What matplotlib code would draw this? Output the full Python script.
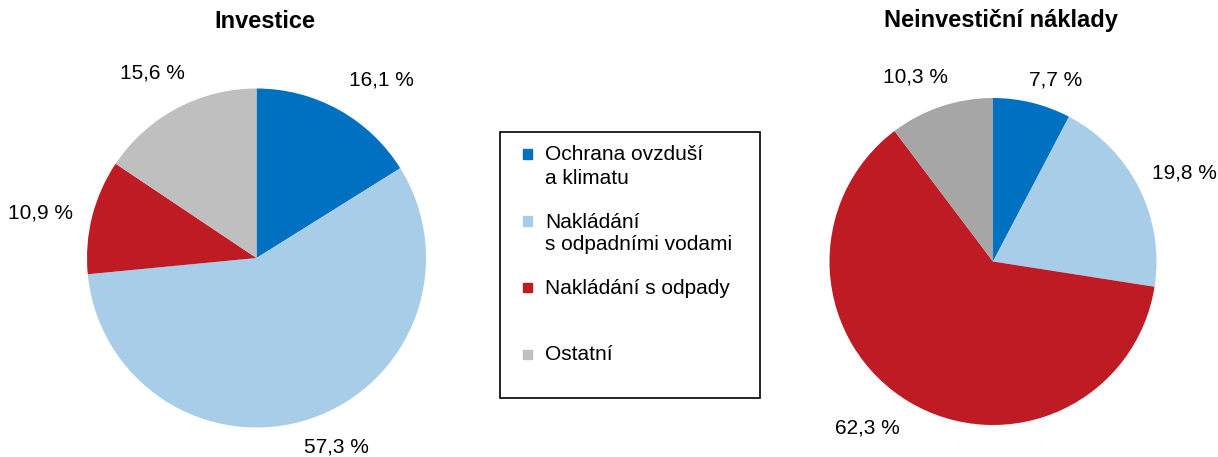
import matplotlib
matplotlib.use("Agg")
import matplotlib.pyplot as plt
from matplotlib.patches import Rectangle

plt.rcParams['font.family'] = ['Liberation Sans', 'DejaVu Sans']

categories = ["Ochrana ovzduší\na klimatu", "Nakládání\ns odpadními vodami",
              "Nakládání s odpady", "Ostatní"]
investice = [16.1, 57.3, 10.9, 15.6]
neinvesticni = [7.7, 19.8, 62.3, 10.3]
colors_left = ["#0070C0", "#A7CDE8", "#BE1B24", "#BFBFBF"]
colors_right = ["#0070C0", "#A7CDE8", "#BE1B24", "#A6A6A6"]

W, H = 1218, 457
fig = plt.figure(figsize=(W / 100, H / 100), dpi=100)


def px_axes(cx, cy, r):
    return fig.add_axes([(cx - r) / W, (H - cy - r) / H, 2 * r / W, 2 * r / H])


def fmt(v):
    return f"{v:.1f}".replace(".", ",") + " %"


# label positions (in pie radius units)
left_pos = [(0.735, 1.050), (0.469, -1.115), (-1.277, 0.265), (-0.611, 1.091)]
right_pos = [(0.385, 1.110), (1.168, 0.541), (-0.771, -1.018), (-0.471, 1.128)]

axL = px_axes(256.5, 258, 169.5)
axL.pie(investice, colors=colors_left, startangle=90, counterclock=False, radius=1)
axL.set_xlim(-1, 1)
axL.set_ylim(-1, 1)
for v, (x, y) in zip(investice, left_pos):
    axL.text(x, y, fmt(v), ha='center', va='center', fontsize=15)

axR = px_axes(993, 261.5, 163.5)
axR.pie(neinvesticni, colors=colors_right, startangle=90, counterclock=False, radius=1)
axR.set_xlim(-1, 1)
axR.set_ylim(-1, 1)
for v, (x, y) in zip(neinvesticni, right_pos):
    axR.text(x, y, fmt(v), ha='center', va='center', fontsize=15)

fig.text(265 / W, 1 - 21 / H, "Investice", ha='center', va='center',
         fontsize=17, fontweight='bold')
fig.text(1001 / W, 1 - 21 / H, "Neinvestiční náklady", ha='center', va='center',
         fontsize=17, fontweight='bold')

# legend drawn by hand to mimic the original layout
fig.patches.append(Rectangle((500 / W, 1 - 398 / H), 260 / W, 266 / H,
                             transform=fig.transFigure, fill=False,
                             edgecolor='black', linewidth=1.2))
marker_y = [154, 221, 287, 354]
text_y = [155, 222, 288, 355]
for lab, col, my, ty in zip(categories, colors_left, marker_y, text_y):
    fig.patches.append(Rectangle((523 / W, 1 - (my + 4.5) / H), 9 / W, 9 / H,
                                 transform=fig.transFigure, color=col))
    for i, line in enumerate(lab.split("\n")):
        fig.text(545 / W, 1 - (ty + 23 * i) / H, line, ha='left', va='center',
                 fontsize=15)

fig.savefig("out.png", dpi=100)
